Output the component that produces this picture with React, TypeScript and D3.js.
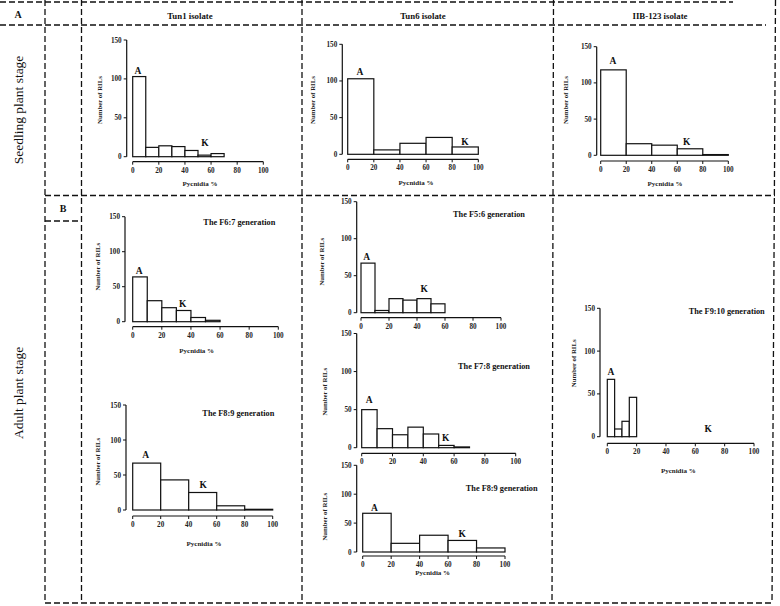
import React from "react";
import * as d3 from "d3";

// ---- data ----
const pycnidiaTicks = [0, 20, 40, 60, 80, 100];
const rilTicks = [0, 50, 100, 150];
const isolates = ["Tun1 isolate", "Tun6 isolate", "IIB-123 isolate"];
const stages = ["Seedling plant stage", "Adult plant stage"];

const tun1SeedlingCounts = [103, 12, 14, 13, 8, 2, 4];
const tun6SeedlingCounts = [103, 6, 15, 23, 10];
const iib123SeedlingCounts = [118, 16, 14, 9, 1];
const tun1F67Counts = [64, 30, 20, 16, 6, 2];
const tun1F89Counts = [67, 43, 25, 6, 1];
const tun6F56Counts = [67, 3, 19, 17, 19, 12];
const tun6F78Counts = [50, 25, 17, 27, 18, 3, 1];
const tun6F89Counts = [67, 15, 29, 20, 7];
const iib123F910Counts = [67, 9, 18, 46];

// ---- layout ----
type Panel = {
  counts: number[];
  bin: number;
  yAxisX: number;
  x0: number;
  x1: number;
  yTop: number;
  yBot: number;
  xAxisY: number;
  title?: string;
  titlePos?: [number, number];
  pyc?: [number, number];
  ril: [number, number];
  a: [number, number];
  k: [number, number];
};

const panels: Panel[] = [
  { counts: tun1SeedlingCounts, bin: 10, yAxisX: 126.7, x0: 132.7, x1: 263.3, yTop: 40, yBot: 156.7, xAxisY: 161.7, pyc: [200, 186], ril: [100, 100], a: [4, 106], k: [55.4, 13.7] },
  { counts: tun6SeedlingCounts, bin: 20, yAxisX: 342.3, x0: 347.7, x1: 478.3, yTop: 44.3, yBot: 154.3, xAxisY: 159.3, pyc: [416, 184.5], ril: [313, 100], a: [9.4, 107.5], k: [89.8, 12.7] },
  { counts: iib123SeedlingCounts, bin: 20, yAxisX: 596.7, x0: 600.7, x1: 728.3, yTop: 46.7, yBot: 155.3, xAxisY: 161, pyc: [665, 185.5], ril: [566, 100], a: [9.6, 126], k: [67.4, 14.2] },
  { counts: tun1F67Counts, bin: 10, yAxisX: 125, x0: 132.7, x1: 278.3, yTop: 216.7, yBot: 321.7, xAxisY: 326.7, title: "The F6:7 generation", titlePos: [239.3, 225.3], pyc: [196.7, 353], ril: [98, 266.7], a: [4.5, 68], k: [34.3, 20.3] },
  { counts: tun1F89Counts, bin: 20, yAxisX: 126, x0: 132.7, x1: 272.7, yTop: 405, yBot: 510, xAxisY: 516, title: "The F8:9 generation", titlePos: [238.3, 415.7], pyc: [204, 546], ril: [98, 461.7], a: [9.3, 74], k: [50.4, 31.4] },
  { counts: tun6F56Counts, bin: 10, yAxisX: 356.7, x0: 361, x1: 501, yTop: 201.7, yBot: 312.7, xAxisY: 317.7, title: "The F5:6 generation", titlePos: [489, 217], ril: [321.7, 261.7], a: [4.1, 71.2], k: [45.2, 27.3] },
  { counts: tun6F78Counts, bin: 10, yAxisX: 356.7, x0: 361.7, x1: 515.7, yTop: 333.5, yBot: 447.7, xAxisY: 453.3, title: "The F7:8 generation", titlePos: [494, 368.7], ril: [325, 391.7], a: [4.9, 58.7], k: [54.5, 8.8] },
  { counts: tun6F89Counts, bin: 20, yAxisX: 356.7, x0: 362.7, x1: 505, yTop: 465.3, yBot: 552, xAxisY: 556, title: "The F8:9 generation", titlePos: [501.7, 491.3], pyc: [432.7, 575], ril: [325, 516.7], a: [8.2, 71], k: [70, 26.8] },
  { counts: iib123F910Counts, bin: 5, yAxisX: 600, x0: 607.3, x1: 754, yTop: 308.3, yBot: 436.7, xAxisY: 443.3, title: "The F9:10 generation", titlePos: [726.7, 313.7], pyc: [678.3, 473], ril: [573.3, 363.3], a: [2.5, 72], k: [68.8, 6] },
];

const FONT = "'Liberation Serif', 'Times New Roman', Times, serif";

function Histogram({ p }: { p: Panel }) {
  const x = d3.scaleLinear().domain([0, 100]).range([p.x0, p.x1]);
  const y = d3.scaleLinear().domain([0, 150]).range([p.yBot, p.yTop]);
  return (
    <g fontFamily={FONT}>
      {p.counts.map((c, i) => (
        <rect
          key={i}
          x={x(i * p.bin)}
          y={y(c)}
          width={x((i + 1) * p.bin) - x(i * p.bin)}
          height={y(0) - y(c)}
          fill="#fff"
          stroke="#111"
          strokeWidth={1.2}
        />
      ))}
      {/* y axis */}
      <line x1={p.yAxisX} x2={p.yAxisX} y1={y(0)} y2={y(150)} stroke="#111" strokeWidth={1.2} />
      {rilTicks.map((t) => (
        <g key={t}>
          <line x1={p.yAxisX - 3} x2={p.yAxisX} y1={y(t)} y2={y(t)} stroke="#111" strokeWidth={1} />
          <text x={p.yAxisX - 5} y={y(t)} dy="0.35em" textAnchor="end" fontSize={7.2} fontWeight="bold" fill="#222">
            {t}
          </text>
        </g>
      ))}
      {/* x axis */}
      <line x1={x(0)} x2={x(100)} y1={p.xAxisY} y2={p.xAxisY} stroke="#111" strokeWidth={1.2} />
      {pycnidiaTicks.map((t) => (
        <g key={t}>
          <line x1={x(t)} x2={x(t)} y1={p.xAxisY} y2={p.xAxisY + 3} stroke="#111" strokeWidth={1} />
          <text x={x(t)} y={p.xAxisY + 8.5} dy="0.35em" textAnchor="middle" fontSize={7.2} fontWeight="bold" fill="#222">
            {t}
          </text>
        </g>
      ))}
      {p.pyc && (
        <text x={p.pyc[0]} y={p.pyc[1]} textAnchor="middle" fontSize={7} fontWeight="bold" fill="#222">
          Pycnidia %
        </text>
      )}
      <text
        transform={`translate(${p.ril[0]},${p.ril[1]}) rotate(-90)`}
        dy="0.35em"
        textAnchor="middle"
        fontSize={6.8}
        fontWeight="bold"
        fill="#222"
      >
        Number of RILs
      </text>
      {p.title && p.titlePos && (
        <text x={p.titlePos[0]} y={p.titlePos[1]} textAnchor="middle" fontSize={8.3} fontWeight="bold" fill="#111">
          {p.title}
        </text>
      )}
      <text x={x(p.a[0])} y={y(p.a[1])} textAnchor="middle" fontSize={9.5} fontWeight="bold" fill="#111">
        A
      </text>
      <text x={x(p.k[0])} y={y(p.k[1])} textAnchor="middle" fontSize={9.5} fontWeight="bold" fill="#111">
        K
      </text>
    </g>
  );
}

export default function App() {
  const dash = { stroke: "#111", strokeWidth: 1.3, strokeDasharray: "6,3", fill: "none" } as const;
  return (
    <svg
      width={780}
      height={606}
      viewBox="0 0 780 606"
      style={{ position: "absolute", left: 0, top: 0, background: "#fff" }}
    >
      <rect x={0} y={0} width={780} height={606} fill="#fff" />
      {/* grid */}
      <line x1={0} x2={733} y1={2} y2={2} {...dash} />
      <line x1={0} x2={766} y1={25} y2={25} {...dash} />
      <line x1={45} x2={775} y1={195.5} y2={195.5} {...dash} />
      <line x1={45} x2={81} y1={221} y2={221} {...dash} />
      <line x1={45} x2={772} y1={603} y2={603} {...dash} />
      <line x1={45} x2={45} y1={0} y2={603} {...dash} />
      <line x1={81.5} x2={81.5} y1={0} y2={603} {...dash} />
      <line x1={302} x2={302} y1={0} y2={603} {...dash} />
      <line x1={553.5} x2={552} y1={0} y2={603} {...dash} />
      <line x1={775.5} x2={772} y1={0} y2={603} {...dash} />

      <g fontFamily={FONT} fill="#111">
        <text x={18} y={18} textAnchor="middle" fontSize={10} fontWeight="bold">A</text>
        <text x={63} y={211.5} textAnchor="middle" fontSize={10} fontWeight="bold">B</text>
        <text x={190} y={16} dy="0.35em" textAnchor="middle" fontSize={8.8} fontWeight="bold">{isolates[0]}</text>
        <text x={423} y={16} dy="0.35em" textAnchor="middle" fontSize={8.8} fontWeight="bold">{isolates[1]}</text>
        <text x={660} y={16} dy="0.35em" textAnchor="middle" fontSize={8.8} fontWeight="bold">{isolates[2]}</text>
        <text transform="translate(18,110) rotate(-90)" dy="0.35em" textAnchor="middle" fontSize={13.5}>{stages[0]}</text>
        <text transform="translate(18,393) rotate(-90)" dy="0.35em" textAnchor="middle" fontSize={13.5}>{stages[1]}</text>
      </g>

      {panels.map((p, i) => (
        <Histogram key={i} p={p} />
      ))}
    </svg>
  );
}
